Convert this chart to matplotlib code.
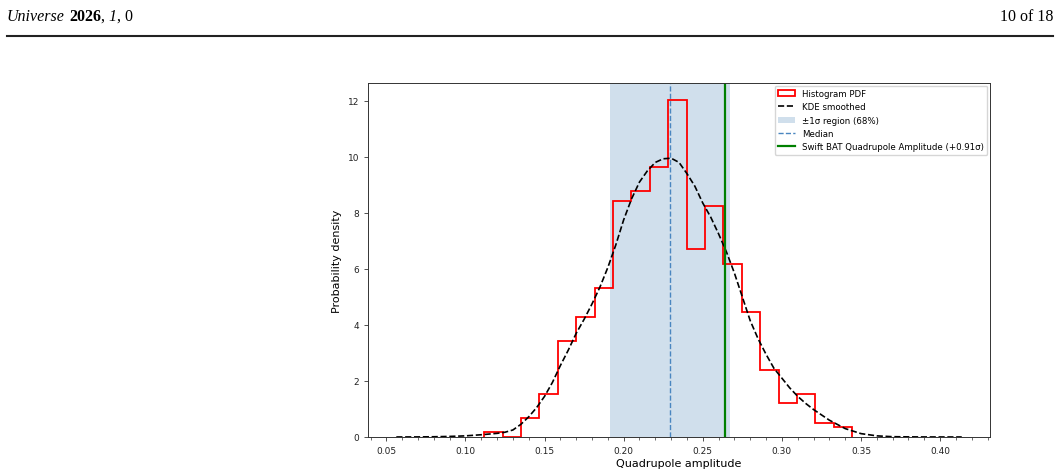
import numpy as np
import matplotlib
matplotlib.use("Agg")
import matplotlib.pyplot as plt
from matplotlib.lines import Line2D
from matplotlib.ticker import MultipleLocator

# histogram: 500 samples in 20 bins between min and max
hist_min, hist_max = 0.1118, 0.3445
bin_counts = [1, 0, 4, 9, 20, 25, 31, 49, 51, 56,
              70, 39, 48, 36, 26, 14, 7, 9, 3, 2]

# KDE curve
kde_x = [0.0563, 0.07, 0.08, 0.09, 0.10, 0.11, 0.12, 0.125, 0.13, 0.135,
         0.14, 0.145, 0.15, 0.155, 0.16, 0.165, 0.17, 0.175, 0.18, 0.185,
         0.19, 0.195, 0.20, 0.205, 0.21, 0.215, 0.22, 0.225, 0.23, 0.235,
         0.24, 0.245, 0.25, 0.255, 0.26, 0.265, 0.27, 0.275, 0.28, 0.285,
         0.29, 0.295, 0.30, 0.305, 0.31, 0.315, 0.32, 0.33, 0.34, 0.35,
         0.36, 0.37, 0.38, 0.39, 0.40, 0.4137]
kde_y = [0.0, 0.002, 0.008, 0.02, 0.04, 0.08, 0.13, 0.17, 0.25, 0.45,
         0.72, 1.05, 1.45, 1.95, 2.55, 3.1, 3.7, 4.2, 4.75, 5.35,
         6.05, 6.85, 7.75, 8.5, 9.1, 9.5, 9.8, 9.93, 9.95, 9.8,
         9.4, 8.95, 8.35, 7.85, 7.25, 6.6, 5.85, 5.0, 4.15, 3.5,
         2.95, 2.45, 2.1, 1.75, 1.45, 1.2, 0.98, 0.6, 0.3, 0.12,
         0.04, 0.01, 0.004, 0.001, 0.0, 0.0]

median = 0.2293
sigma = 0.0381
swift_value = 0.2640
swift_nsigma = 0.91

edges = np.linspace(hist_min, hist_max, len(bin_counts) + 1)
centers = 0.5 * (edges[:-1] + edges[1:])

fig = plt.figure(figsize=(10.6, 4.77), dpi=100)
ax = fig.add_axes([0.3472, 0.0818, 0.5868, 0.7421])

ax.hist(centers, bins=edges, weights=bin_counts, density=True,
        histtype="step", color="red", linewidth=1.3, label="Histogram PDF")
ax.plot(kde_x, kde_y, color="black", linestyle="--", linewidth=1.2,
        label="KDE smoothed")
ax.axvspan(median - sigma, median + sigma, color="steelblue", alpha=0.25,
           linewidth=0, label="\u00b11\u03c3 region (68%)")
ax.axvline(median, color="#4a86c0", linestyle="--", linewidth=1.0,
           label="Median")
ax.axvline(swift_value, color="green", linewidth=1.6,
           label=f"Swift BAT Quadrupole Amplitude (+{swift_nsigma:.2f}\u03c3)")

ax.set_ylim(0, None)
ax.margins(x=0.05)
ax.xaxis.set_major_locator(MultipleLocator(0.05))
ax.xaxis.set_minor_locator(MultipleLocator(0.01))
ax.tick_params(axis="both", which="major", labelsize=6.5, length=3, width=0.6,
               colors="#333333", labelcolor="#222222")
ax.tick_params(axis="x", which="minor", length=2, width=0.5, colors="#333333")
for sp in ax.spines.values():
    sp.set_linewidth(0.7)
    sp.set_color("#333333")
ax.set_xlabel("Quadrupole amplitude", fontsize=8, labelpad=2)
ax.set_ylabel("Probability density", fontsize=8, labelpad=4)
ax.legend(loc="upper right", fontsize=6.2, framealpha=0.8,
          borderaxespad=0.3, handlelength=2.0)

# page header
renderer = fig.canvas.get_renderer()
hdr_y = 1 - 17 / 477
x = 7 / 1060
pieces = [("Universe", "italic", "normal"), (" ", "normal", "normal"),
          ("2026", "normal", "bold"), (", ", "normal", "normal"),
          ("1", "italic", "normal"), (", 0", "normal", "normal")]
for s, style, weight in pieces:
    t = fig.text(x, hdr_y, s, family="Liberation Serif", style=style,
                 weight=weight, fontsize=11.5, va="center", ha="left")
    bb = t.get_window_extent(renderer=renderer)
    x += bb.width / fig.bbox.width
fig.text(1053 / 1060, hdr_y, "10 of 18", family="Liberation Serif",
         fontsize=11.5, va="center", ha="right")
fig.add_artist(Line2D([7 / 1060, 1053 / 1060], [1 - 37 / 477] * 2,
                      transform=fig.transFigure, color="#222222", linewidth=1.5))

fig.savefig("out.png", dpi=100)
